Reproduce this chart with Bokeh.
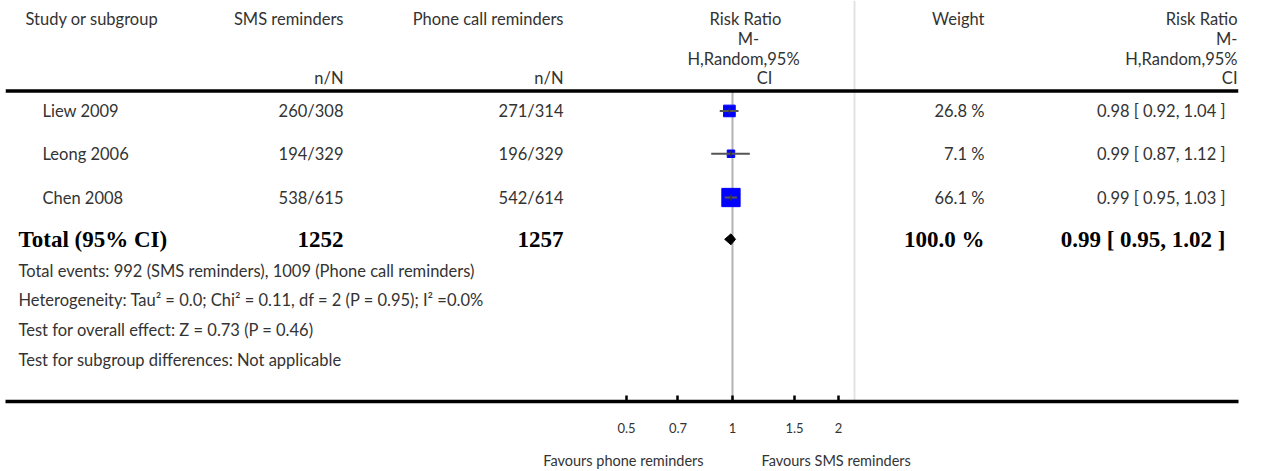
import math
from bokeh.plotting import figure
from bokeh.models import Range1d, LogScale, LogAxis, FixedTicker, BoxAnnotation
from bokeh.core.properties import value
from bokeh.embed import file_html
from bokeh.resources import INLINE

# ---------------- data ----------------
studies = ["Liew 2009", "Leong 2006", "Chen 2008"]
sms_events = [260, 194, 538]
sms_totals = [308, 329, 615]
phone_events = [271, 196, 542]
phone_totals = [314, 329, 614]
rr_est = [0.98, 0.99, 0.99]
rr_low = [0.92, 0.87, 0.95]
rr_high = [1.04, 1.12, 1.03]
weights = [26.8, 7.1, 66.1]

total_label = "Total (95% CI)"
total_sms = 1252
total_phone = 1257
total_weight = 100.0
total_est = 0.99
total_low = 0.95
total_high = 1.02

footnotes = [
    "Total events: 992 (SMS reminders), 1009 (Phone call reminders)",
    "Heterogeneity: Tau\u00b2 = 0.0; Chi\u00b2 = 0.11, df = 2 (P = 0.95); I\u00b2 =0.0%",
    "Test for overall effect: Z = 0.73 (P = 0.46)",
    "Test for subgroup differences: Not applicable",
]
tick_values = [0.5, 0.7, 1, 1.5, 2]
tick_labels = ["0.5", "0.7", "1", "1.5", "2"]
favours_left = "Favours phone reminders"
favours_right = "Favours SMS reminders"
favours_pos = [0.49, 1.97]
no_effect = 1

# ---------------- layout constants (page pixel space) ----------------
W, H = 1263, 471
X0, X1 = 5, 1238          # frame left/right in page px
Y_TOP, Y_BOT = 0, 403     # frame top/bottom in page px
X_ONE = 732               # page x of RR = 1
PX_PER_LN = 152.9         # px per natural-log unit
X_SEP = 854               # light column separator

rr_start = math.exp(-(X_ONE - X0) / PX_PER_LN)
rr_end = math.exp((X1 - X_ONE) / PX_PER_LN)

FONT = value("Lato")
SERIF = value("Liberation Serif")
TXT = "#333333"
FS = "16.5px"    # regular text
FB = "23px"      # bold total row

p = figure(width=W, height=H, output_backend="svg", toolbar_location=None,
           x_range=Range1d(X0, X1), y_range=Range1d(Y_BOT, Y_TOP),
           x_axis_location=None, y_axis_location=None,
           min_border_left=X0, min_border_right=W - X1, min_border_top=Y_TOP,
           min_border_bottom=H - Y_BOT)
p.outline_line_color = None
p.grid.visible = False
p.background_fill_color = "white"
p.border_fill_color = "white"

p.extra_x_scales = {"rr": LogScale()}
p.extra_x_ranges = {"rr": Range1d(rr_start, rr_end)}

# separator and reference lines (run down through the axis area)
p.add_layout(BoxAnnotation(left=X_SEP, right=X_SEP, top=0, bottom=H,
                           top_units="canvas", bottom_units="canvas",
                           fill_alpha=0, line_color="#e3e3e3", line_alpha=1.0,
                           line_width=2, level="underlay"))
p.add_layout(BoxAnnotation(left=no_effect, right=no_effect, x_range_name="rr",
                           top=91, bottom=H, bottom_units="canvas",
                           fill_alpha=0, line_color="#b3b3b3", line_alpha=1.0,
                           line_width=2, level="underlay"))
p.segment(x0=[X0], x1=[X1], y0=[91], y1=[91], line_color="black", line_width=3.5)


def txt(x, y, s, align="left", font=FONT, size=FS, style="normal", color=TXT):
    p.text(x=x, y=y, text=s, text_align=align, text_baseline="middle",
           text_font=font, text_font_size=size, text_font_style=style, text_color=color)


# header
hdr = ["Risk Ratio", "M-", "H,Random,95%", "CI"]
hdr_y = [19, 39, 59, 78]
txt([25], [hdr_y[0]], ["Study or subgroup"])
txt([343, 343], [hdr_y[0], hdr_y[3]], ["SMS reminders", "n/N"], align="right")
txt([563, 563], [hdr_y[0], hdr_y[3]], ["Phone call reminders", "n/N"], align="right")
txt([745, 748, 743, 764], hdr_y, hdr, align="center")
txt([984], [hdr_y[0]], ["Weight"], align="right")
txt([1237] * 4, hdr_y, hdr, align="right")

# study rows
row_y = [111, 154, 198]
txt([42] * 3, row_y, studies)
txt([343] * 3, row_y, [f"{a}/{b}" for a, b in zip(sms_events, sms_totals)], align="right")
txt([563] * 3, row_y, [f"{a}/{b}" for a, b in zip(phone_events, phone_totals)], align="right")
txt([984] * 3, row_y, [f"{w:.1f} %" for w in weights], align="right")
txt([1225] * 3, row_y, [f"{e:.2f} [ {l:.2f}, {h:.2f} ]" for e, l, h in zip(rr_est, rr_low, rr_high)],
    align="right")

# markers
sizes = [max(7.5, 2.25 * math.sqrt(w)) for w in weights]
p.rect(x=rr_est, y=row_y, width=sizes, height=sizes, width_units="screen",
       height_units="screen", x_range_name="rr", fill_color="#0000ff", line_color="#0000ff")
p.segment(x0=rr_low, x1=rr_high, y0=row_y, y1=row_y, x_range_name="rr",
          line_color="#555555", line_width=2)
p.segment(x0=rr_est, x1=rr_est, y0=[y - 3 for y in row_y], y1=[y + 3 for y in row_y],
          x_range_name="rr", line_color="#333333", line_width=1.5)

# total row
ty = 240
txt([18], [ty], [total_label], font=SERIF, size=FB, style="bold", color="black")
txt([343, 563], [ty, ty], [str(total_sms), str(total_phone)], align="right",
    font=SERIF, size=FB, style="bold", color="black")
txt([984], [ty], [f"{total_weight:.1f} %"], align="right", font=SERIF, size=FB,
    style="bold", color="black")
txt([1225], [ty], [f"{total_est:.2f} [ {total_low:.2f}, {total_high:.2f} ]"], align="right",
    font=SERIF, size=FB, style="bold", color="black")
p.patch(x=[total_low, total_est, total_high, total_est], y=[ty, ty - 5.5, ty, ty + 5.5],
        x_range_name="rr", fill_color="black", line_color="black")

# footnotes
txt([18] * 4, [272, 301, 331, 361], footnotes)

# axis
ax = LogAxis(x_range_name="rr", ticker=FixedTicker(ticks=tick_values, minor_ticks=[]),
             major_label_overrides={v: l for v, l in zip(tick_values, tick_labels)})
ax.axis_line_width = 3.5
ax.axis_line_color = "black"
ax.major_tick_in = 6
ax.major_tick_out = 0
ax.major_tick_line_width = 2.5
ax.major_label_standoff = 21
ax.major_label_text_font = "Lato"
ax.major_label_text_font_size = "13px"
ax.major_label_text_color = TXT
p.add_layout(ax, "below")

ax2 = LogAxis(x_range_name="rr", ticker=FixedTicker(ticks=favours_pos, minor_ticks=[]),
              major_label_overrides={favours_pos[0]: favours_left, favours_pos[1]: favours_right})
ax2.axis_line_color = None
ax2.major_tick_line_color = None
ax2.major_tick_in = 0
ax2.major_tick_out = 0
ax2.major_label_standoff = 16
ax2.major_label_text_font = "Lato"
ax2.major_label_text_font_size = "14.5px"
ax2.major_label_text_color = TXT
p.add_layout(ax2, "below")

open("out.html", "w").write(file_html(p, INLINE))
